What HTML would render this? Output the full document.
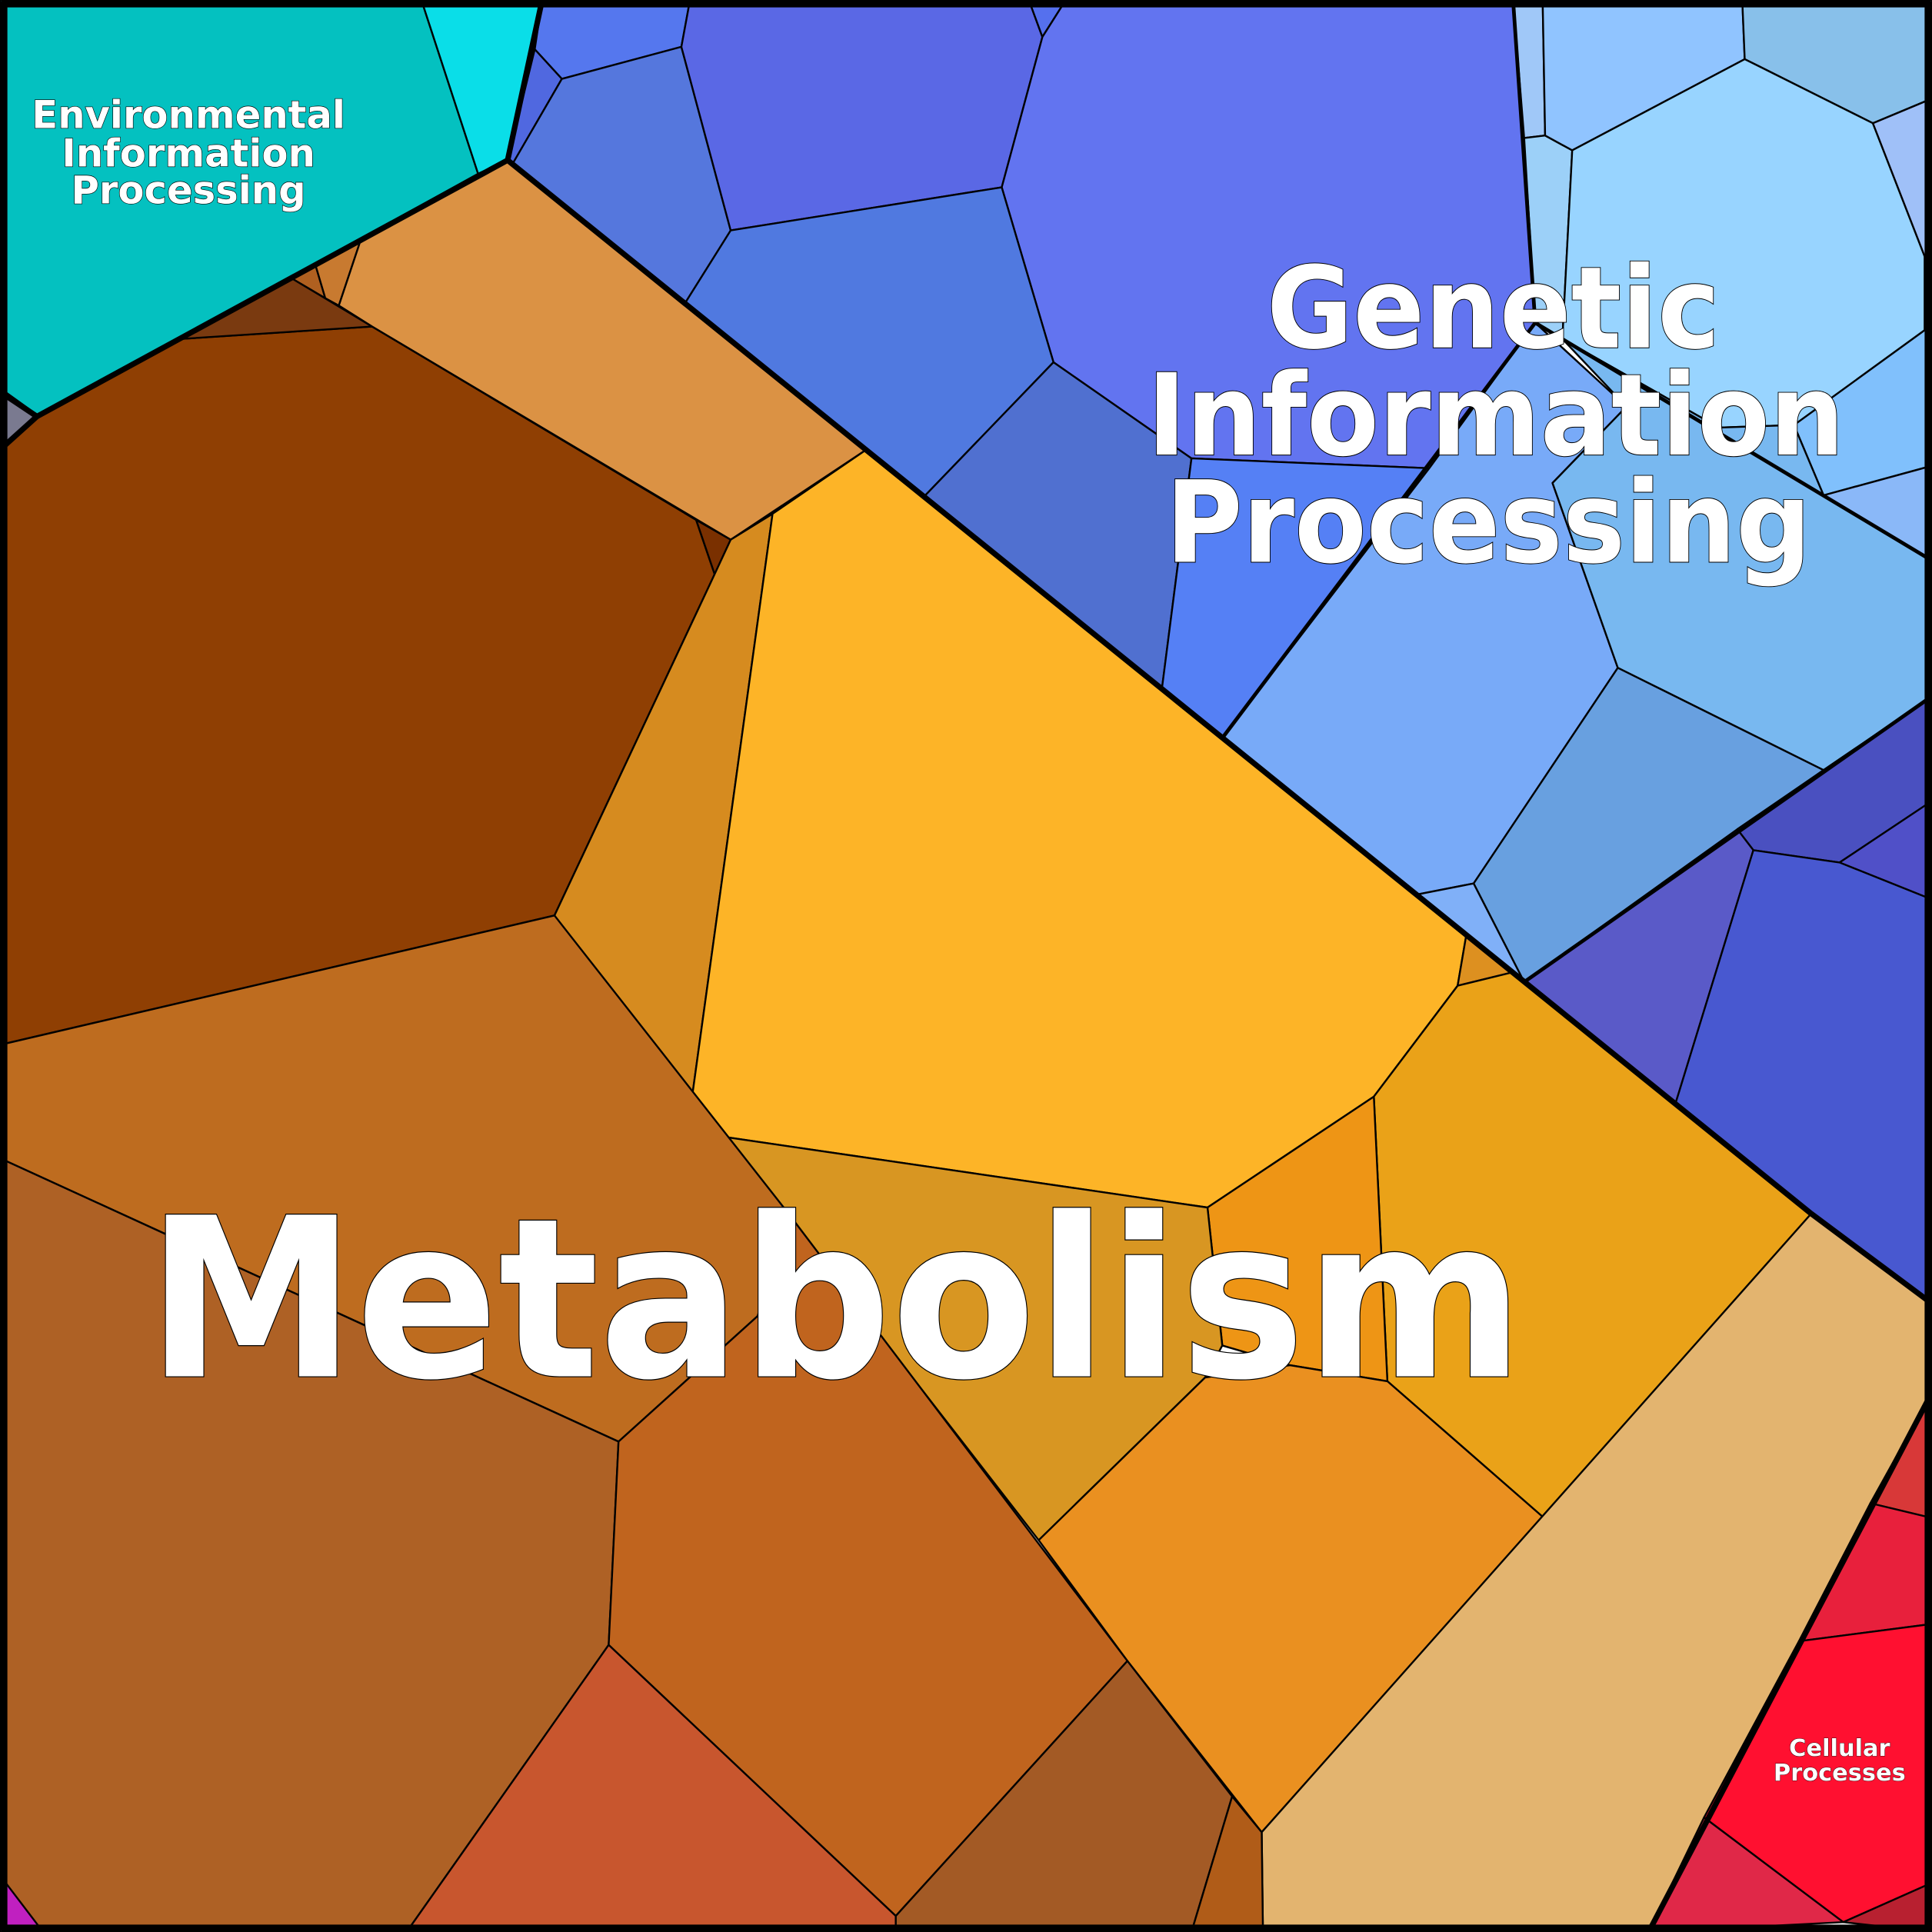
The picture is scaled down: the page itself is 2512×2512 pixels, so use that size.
<!DOCTYPE html>
<html><head><meta charset="utf-8"><style>html,body{margin:0;padding:0;background:#fff}svg{display:block}</style></head>
<body>
<svg width="2512" height="2512" viewBox="0 0 1568 1568" xmlns="http://www.w3.org/2000/svg">
<g stroke="#000" stroke-width="1.5" stroke-linejoin="round">
<!-- Environmental -->
<polygon fill="#04c1c0" points="0,0 342,0 388,141 32,338 0,315"/>
<polygon fill="#0adee8" points="342,0 440,0 412,130 388,141"/>
<polygon fill="#7a7a90" points="0,318 30,338 0,365"/>
<!-- Genetic -->
<polygon fill="#5577ee" points="440,0 560,0 553,38 456,64 434,40"/>
<polygon fill="#5068e0" points="434,40 456,64 416,133 412,130"/>
<polygon fill="#5577dd" points="456,64 553,38 593,187 556,246 416,133"/>
<polygon fill="#5a68e5" points="560,0 835,0 846,30 813,152 593,187 553,38"/>
<polygon fill="#5570ee" points="835,0 865,0 846,30"/>
<polygon fill="#6274f0" points="865,0 1228,0 1246,262 1160,380 967,372 855,294 813,152 846,30"/>
<polygon fill="#5079e0" points="593,187 813,152 855,294 750,403 556,246"/>
<polygon fill="#5070d0" points="750,403 855,294 967,372 943,559"/>
<polygon fill="#5580f5" points="967,372 1160,380 992,599 943,559"/>
<polygon fill="#a0c8f8" points="1228,0 1252,0 1254,110 1237,112"/>
<polygon fill="#9cd0f8" points="1237,112 1254,110 1276,122 1268,275 1246,262"/>
<polygon fill="#90c4ff" points="1252,0 1414,0 1416,48 1276,122 1254,110"/>
<polygon fill="#88c0ea" points="1414,0 1568,0 1568,80 1520,100 1416,48"/>
<polygon fill="#98d4ff" points="1416,48 1520,100 1562,208 1562,268 1456,345 1395,347 1268,275 1276,122"/>
<polygon fill="#9fc0f8" points="1520,100 1568,80 1568,208 1562,208"/>
<polygon fill="#80c0fc" points="1456,345 1562,268 1568,268 1568,378 1480,402"/>
<polygon fill="#8ab8f8" points="1480,402 1568,378 1568,455"/>
<polygon fill="#78aaf8" points="1160,380 1246,262 1320,330 1260,392 1313,542 1196,717 1150,726 992,599"/>
<polygon fill="#78b8f0" points="1320,330 1268,275 1395,347 1456,345 1480,402 1568,455 1568,565 1480,625 1313,542 1260,392"/>
<polygon fill="#68a0e0" points="1313,542 1480,625 1237,797 1196,717"/>
<polygon fill="#80b0f8" points="1150,726 1196,717 1237,797"/>
<polygon fill="#4a50c0" points="1480,625 1568,565 1568,650 1493,700 1423,690 1410,673"/>
<polygon fill="#5050c8" points="1493,700 1568,650 1568,730"/>
<polygon fill="#5a5ac8" points="1237,797 1410,673 1423,690 1360,895"/>
<polygon fill="#4858d0" points="1360,895 1423,690 1493,700 1568,730 1568,1058 1470,985"/>
<!-- Metabolism -->
<polygon fill="#8f3f03" points="0,365 30,338 148,275 302,265 565,422 580,466 450,743 0,848"/>
<polygon fill="#7a3a10" points="148,275 237,226 302,265"/>
<polygon fill="#b06020" points="237,226 256,215 264,242"/>
<polygon fill="#c87a30" points="256,215 292,197 275,248 264,242"/>
<polygon fill="#db9244" points="292,197 412,130 703,365 593,438 302,265 275,248"/>
<polygon fill="#7a3000" points="565,422 593,438 580,466"/>
<polygon fill="#d68b1f" points="593,438 627,417 562,888 450,743 580,466"/>
<polygon fill="#fdb427" points="627,417 703,365 1190,759 1183,800 1115,890 980,980 590,923 562,888"/>
<polygon fill="#dd9020" points="1190,759 1228,789 1183,800"/>
<polygon fill="#eaa218" points="1183,800 1228,789 1470,985 1252,1231 1126,1121 1115,890"/>
<polygon fill="#ee9515" points="980,980 1115,890 1126,1121 1047,1108 992,1092"/>
<polygon fill="#d89622" points="562,888 590,923 980,980 992,1092 978,1118 843,1250"/>
<polygon fill="#ea9020" points="843,1250 978,1118 1047,1108 1126,1121 1252,1231 1024,1487 915,1348"/>
<polygon fill="#e3b46f" points="1024,1487 1470,985 1568,1058 1568,1130 1338,1568 1025,1568"/>
<polygon fill="#be6c1f" points="0,848 450,743 640,985 615,1068 502,1170 0,940"/>
<polygon fill="#ae6125" points="0,940 502,1170 494,1335 330,1568 0,1568"/>
<polygon fill="#c0641e" points="502,1170 615,1068 640,985 915,1348 727,1555 494,1335"/>
<polygon fill="#c8562e" points="494,1335 727,1555 727,1568 330,1568"/>
<polygon fill="#a35a25" points="727,1555 915,1348 1000,1458 967,1568 727,1568"/>
<polygon fill="#b05c18" points="1000,1458 1024,1487 1025,1568 967,1568"/>
<polygon fill="#c020c0" points="0,1522 35,1568 0,1568"/>
<!-- Cellular -->
<polygon fill="#d83838" points="1568,1130 1518,1220 1568,1232"/>
<polygon fill="#e8203c" points="1518,1220 1568,1232 1568,1318 1460,1332"/>
<polygon fill="#ff1030" points="1460,1332 1568,1318 1568,1528 1496,1560 1383,1475"/>
<polygon fill="#e02848" points="1383,1475 1496,1560 1338,1568"/>
<polygon fill="#b82030" points="1496,1560 1568,1528 1568,1568"/>
</g>
<g fill="none" stroke="#000" stroke-linejoin="round">
<polyline stroke-width="4.5" points="0,318 30,338 412,130 440,0"/>
<polyline stroke-width="4.5" points="0,365 30,338"/>
<polyline stroke-width="4.5" points="412,130 1470,985 1568,1058"/>
<polyline stroke-width="4.5" points="1568,1130 1338,1568"/>
<polyline stroke-width="3" points="1228,0 1246,262 992,599"/>
<polyline stroke-width="3" points="1246,262 1568,455"/>
<polyline stroke-width="3" points="1237,797 1568,565"/>
<rect x="3" y="3" width="1562" height="1562" stroke-width="6"/>
</g>
<g font-family="'DejaVu Sans','Liberation Sans',sans-serif" font-weight="bold" fill="#fff" stroke="#000" text-anchor="middle" paint-order="stroke">
<text x="678" y="1117" font-size="180" stroke-width="1.5" textLength="1118" lengthAdjust="spacingAndGlyphs">Metabolism</text>
<g font-size="92" stroke-width="1.2">
<text x="1212" y="282" textLength="368" lengthAdjust="spacingAndGlyphs">Genetic</text>
<text x="1214" y="369" textLength="566" lengthAdjust="spacingAndGlyphs">Information</text>
<text x="1208" y="456" textLength="524" lengthAdjust="spacingAndGlyphs">Processing</text>
</g>
<g font-size="31" stroke-width="0.8">
<text x="153" y="104">Environmental</text>
<text x="153" y="135">Information</text>
<text x="153" y="165">Processing</text>
</g>
<g font-size="19" stroke-width="0.5">
<text x="1493" y="1425">Cellular</text>
<text x="1493" y="1445">Processes</text>
</g>
</g>
</svg>
</body></html>
